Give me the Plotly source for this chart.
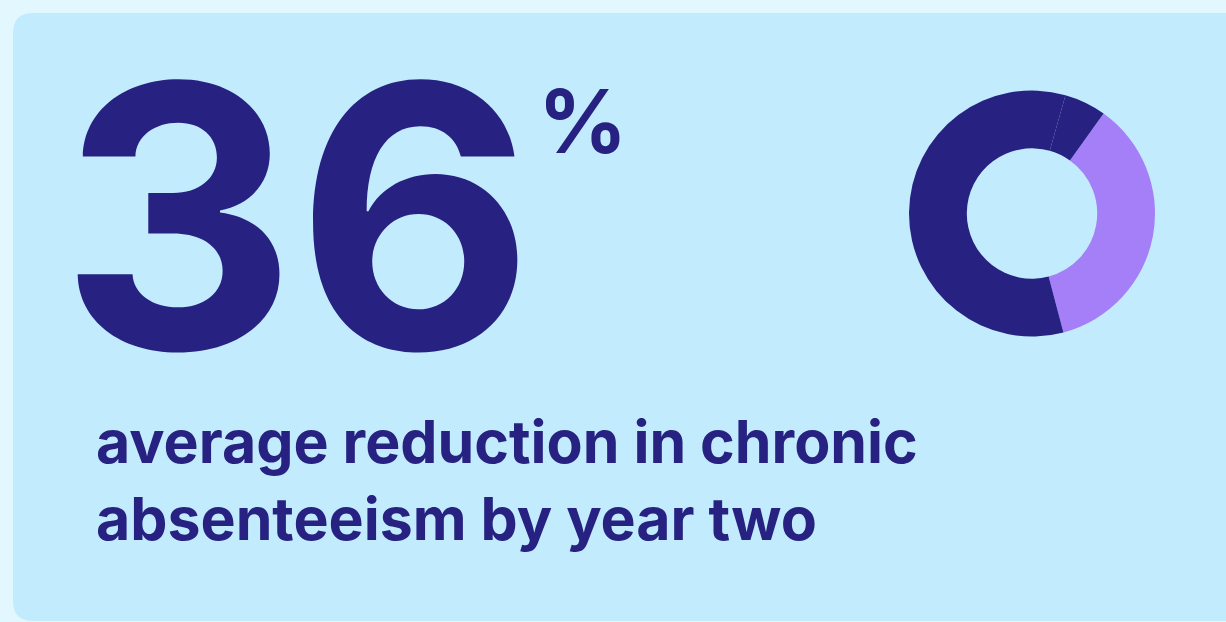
import plotly.graph_objects as go

# Data
slice_labels = ["Reduction", "Remaining", "Other"]
slice_values = [36, 58.5, 5.5]
slice_colors = ["#A47FF7", "#272282", "#272282"]
big_number = "36"
big_suffix = "%"
caption_lines = ["average reduction in chronic", "absenteeism by year two"]

W, H = 1226, 622
DARK = "#272282"
CARD = "#C2ECFD"
OUTER = "#E3F7FE"

fig = go.Figure()

# Donut
cx, cy, r = 1032, 213.5, 123
fig.add_trace(go.Pie(
    labels=slice_labels, values=slice_values, sort=False,
    direction="clockwise", rotation=35.6, hole=0.53,
    marker=dict(colors=slice_colors, line=dict(width=0)),
    textinfo="none", hoverinfo="skip", showlegend=False,
    domain=dict(x=[(cx - r) / W, (cx + r) / W],
                y=[(H - cy - r) / H, (H - cy + r) / H]),
))

# Card with rounded corners (pixel coordinates via hidden axes)
x0, y0, x1, y1, rad = 13, 13, 1240, 621, 20
path = (f"M {x0+rad},{y0} L {x1},{y0} L {x1},{y1} L {x0+rad},{y1} "
        f"Q {x0},{y1} {x0},{y1-rad} L {x0},{y0+rad} Q {x0},{y0} {x0+rad},{y0} Z")

fig.update_layout(
    width=W, height=H,
    margin=dict(l=0, r=0, t=0, b=0),
    paper_bgcolor=OUTER, plot_bgcolor="rgba(0,0,0,0)",
    xaxis=dict(range=[0, W], visible=False, fixedrange=True),
    yaxis=dict(range=[H, 0], visible=False, fixedrange=True),
    shapes=[dict(type="path", path=path, xref="x", yref="y",
                 fillcolor=CARD, line=dict(width=0), layer="below")],
)

fam = "Inter, Lato, sans-serif"
fig.add_annotation(x=58, y=215, xref="x", yref="y", text=big_number,
                   showarrow=False, xanchor="left", yanchor="middle",
                   font=dict(family=fam, size=366, color=DARK, weight=700))
fig.add_annotation(x=536, y=121, xref="x", yref="y", text=big_suffix,
                   showarrow=False, xanchor="left", yanchor="middle",
                   font=dict(family=fam, size=88, color=DARK, weight=700))
for i, line in enumerate(caption_lines):
    fig.add_annotation(x=94, y=441 + i * 77, xref="x", yref="y", text=line,
                       showarrow=False, xanchor="left", yanchor="middle",
                       font=dict(family=fam, size=59, color=DARK, weight=700))

fig.write_html("out.html")
